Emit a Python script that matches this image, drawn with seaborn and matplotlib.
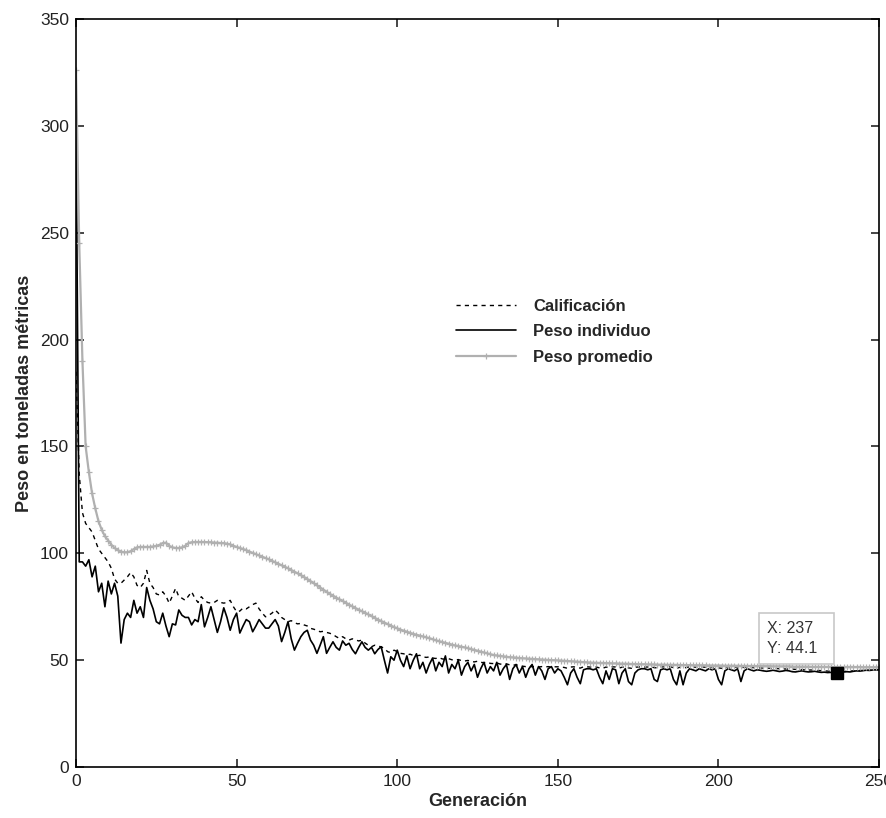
import matplotlib
matplotlib.use('Agg')
import matplotlib.pyplot as plt
import numpy as np
import pandas as pd
import seaborn as sns

# generations 0..250
generacion = list(range(251))

calificacion = [
    185, 137, 119, 114, 112, 110, 106, 102, 100, 98,
    96, 93, 88, 86, 86, 87.5, 89, 91, 89, 85,
    84, 86, 92, 86, 84, 81, 80.5, 82, 80, 76.7,
    80, 83.6, 79.7, 79, 78, 80, 82, 79, 77, 79.7,
    78, 77, 76.7, 77, 78, 77, 76.7, 77, 78, 75,
    72.7, 73, 74.4, 74, 75, 76, 76.7, 74, 72, 70.3,
    71, 72, 73.5, 72, 70, 69, 68, 68.5, 67.5, 67,
    67.2, 66.5, 66, 64.9, 64.5, 64, 63.3, 63.5, 63, 62.6,
    62, 61, 60.2, 61, 60, 59.4, 60, 59.5, 59, 59.4,
    58, 57, 56.3, 57, 56.5, 56.3, 55.5, 54, 53.5, 54.7,
    54, 53.2, 53, 52.4, 52.8, 52.2, 52, 52.3, 51.6, 51.3,
    51.5, 51, 50.8, 51.2, 50.6, 50.4, 50.7, 50.2, 50, 50.3,
    49.8, 49.6, 49.9, 49.4, 49.2, 49.5, 49, 48.8, 49.1, 48.5,
    48.4, 48.7, 48.2, 48, 48.3, 47.8, 47.6, 47.9, 47.4, 47.2,
    47, 47.3, 46.9, 47.1, 46.8, 47, 46.8, 47, 46.8, 46.9,
    46.9, 46.8, 46.6, 46.2, 46.8, 46.9, 46.5, 46.3, 46.9, 46.9,
    46.8, 46.9, 46.8, 46.4, 46.2, 46.8, 46.5, 46.9, 46.8, 46.3,
    46.7, 46.9, 46.4, 46.2, 46.7, 46.8, 46.9, 46.8, 46.8, 46.9,
    46.5, 46.4, 46.8, 46.9, 46.8, 46.9, 46.5, 46.2, 46.7, 46.2,
    46.6, 46.9, 46.8, 46.7, 46.9, 46.8, 46.7, 46.9, 46.8, 46.9,
    46.4, 46.2, 46.7, 46.9, 46.8, 46.7, 46.9, 46.4, 46.7, 46.8,
    46.6, 46.5, 46.5, 46.4, 46.3, 46.3, 46.2, 46.1, 46.1, 46,
    45.9, 45.9, 45.8, 45.8, 45.7, 45.6, 45.6, 45.5, 45.4, 45.4,
    45.3, 45.2, 45.1, 45, 44.9, 44.8, 44.7, 44.6, 44.6, 44.7,
    44.8, 44.9, 45, 45.1, 45.2, 45.2, 45.3, 45.3, 45.4, 45.4,
    45.5,
]

peso_individuo = [
    305, 96, 96, 94, 97, 89, 94, 82, 86, 75,
    87, 81, 86, 80, 58, 69, 72, 70, 78, 72,
    75, 70, 84, 78, 74, 68, 67, 72, 66, 61,
    67, 66.5, 73.5, 71, 70, 70, 66.5, 69, 68, 76,
    65.6, 70, 75, 69, 63, 68, 74.5, 70, 64, 69,
    72, 62.7, 66, 69, 68, 63.3, 66, 69, 67, 65,
    65, 67, 69, 66, 58.7, 63, 68, 60, 54.7, 58,
    61, 63, 64, 59.4, 57, 53.2, 57, 61, 53.2, 56,
    58.6, 56, 54.7, 59, 57, 57.9, 55, 53, 56, 58.6,
    56, 54.7, 56, 53, 55, 56.3, 50, 44, 51.6, 50,
    54.7, 50, 47, 52, 46, 50, 53, 46, 49, 44,
    48, 51, 45, 49, 47, 52, 44, 48, 46, 50,
    43, 47, 49, 45, 48, 42, 46, 49, 44, 47,
    45, 49, 43, 46, 48, 41, 46, 48, 44, 47,
    42, 46, 48, 43, 47, 45, 41, 46, 47, 44,
    46, 45, 42, 38.5, 44, 46, 42, 39, 45.5, 46,
    46, 45.5, 46, 42, 39, 45, 41, 46, 45.5, 39,
    44, 46, 40, 38.5, 44, 45.5, 46, 46, 45.5, 46,
    41, 40, 45.5, 46, 45.5, 46, 41, 38.5, 45, 38.5,
    44, 46, 45.5, 45, 46, 45.5, 45, 46, 45.5, 46,
    41, 38.5, 45, 46, 45.5, 45, 46, 40, 45, 46,
    45.5, 45, 45.5, 45.3, 45, 44.8, 45, 45.3, 45, 44.7,
    44.9, 45.2, 45, 44.6, 44.5, 44.8, 45, 44.7, 44.5, 44.6,
    44.8, 44.5, 44.3, 44.4, 44.2, 44.3, 44.2, 44.1, 44.3, 44.5,
    44.6, 44.5, 44.8, 45, 44.9, 45.1, 45.3, 45.2, 45.4, 45.5,
    45.6,
]

peso_promedio = [
    326, 245, 190, 150, 138, 128, 121, 115, 111, 108,
    106, 104, 102.5, 101.5, 100.8, 100.5, 100.5, 101, 102, 102.8,
    103, 103, 103, 103, 103.2, 103.5, 104, 104.8, 105, 103.5,
    102.8, 102.5, 102.5, 102.8, 103.5, 104.8, 105.2, 105.3, 105.3, 105.3,
    105.3, 105.2, 105.2, 105, 105, 104.8, 104.8, 104.5, 104.2, 103.5,
    103, 102.5, 102, 101.5, 100.8, 100.2, 99.6, 99, 98.4, 97.8,
    97.2, 96.5, 95.8, 95.1, 94.4, 93.7, 93, 92.2, 91.4, 90.6,
    89.8, 88.9, 88, 87, 86, 85, 84, 83, 82, 81,
    80.2, 79.3, 78.5, 77.7, 76.9, 76, 75.2, 74.4, 73.6, 72.9,
    72.2, 71.4, 70.6, 69.8, 69, 68.3, 67.6, 66.9, 66.2, 65.5,
    64.9, 64.3, 63.8, 63.3, 62.8, 62.3, 61.9, 61.5, 61.1, 60.7,
    60.3, 59.8, 59.3, 58.9, 58.5, 58.1, 57.7, 57.3, 56.9, 56.6,
    56.3, 56, 55.6, 55.2, 54.8, 54.4, 54, 53.6, 53.2, 52.8,
    52.4, 52.2, 52, 51.8, 51.6, 51.4, 51.3, 51.2, 51, 50.9,
    50.8, 50.7, 50.6, 50.5, 50.4, 50.3, 50.2, 50.1, 50, 50,
    49.9, 49.8, 49.7, 49.6, 49.5, 49.4, 49.3, 49.2, 49.1, 49,
    48.9, 48.8, 48.8, 48.7, 48.7, 48.6, 48.6, 48.5, 48.5, 48.4,
    48.4, 48.3, 48.3, 48.2, 48.2, 48.1, 48.1, 48.1, 48, 48,
    48, 47.9, 47.9, 47.9, 47.8, 47.8, 47.8, 47.8, 47.7, 47.7,
    47.7, 47.7, 47.6, 47.6, 47.6, 47.6, 47.6, 47.5, 47.5, 47.5,
    47.5, 47.5, 47.4, 47.4, 47.4, 47.4, 47.4, 47.3, 47.3, 47.3,
    47.3, 47.3, 47.2, 47.2, 47.2, 47.2, 47.2, 47.1, 47.1, 47.1,
    47.1, 47.1, 47.1, 47, 47, 47, 47, 47, 47, 46.9,
    46.9, 46.9, 46.9, 46.9, 46.9, 46.9, 46.8, 46.8, 46.8, 46.8,
    46.8, 46.8, 46.8, 46.8, 46.8, 46.7, 46.7, 46.7, 46.7, 46.7,
    46.7,
]

tip_x = 237
tip_y = 44.1

sns.set_theme(style='ticks')
plt.rcParams['font.family'] = ['Liberation Sans', 'DejaVu Sans']

df = pd.DataFrame({
    'Generación': generacion,
    'Calificación': calificacion,
    'Peso individuo': peso_individuo,
    'Peso promedio': peso_promedio,
})

fig = plt.figure(figsize=(8.87, 8.18), dpi=100)
ax = fig.add_axes([0.0857, 0.0623, 0.9053, 0.9144])

sns.lineplot(data=df, x='Generación', y='Calificación', ax=ax, color='black',
             linestyle=(0, (3, 3)), linewidth=1.0, label='Calificación')
sns.lineplot(data=df, x='Generación', y='Peso individuo', ax=ax, color='black',
             linewidth=1.2, label='Peso individuo')
sns.lineplot(data=df, x='Generación', y='Peso promedio', ax=ax, color='#b0b0b0',
             linewidth=1.6, marker='+', markersize=4, markeredgewidth=0.9,
             markeredgecolor='#b0b0b0', label='Peso promedio')

ax.set_xlim(0, 250)
ax.set_ylim(0, 350)
ax.set_xticks(range(0, 251, 50))
ax.set_yticks(range(0, 351, 50))
for side in ['top', 'right', 'left', 'bottom']:
    ax.spines[side].set_visible(True)
    ax.spines[side].set_linewidth(1.2)
    ax.spines[side].set_color('black')
ax.tick_params(direction='in', length=6, width=1.2, top=True, right=True,
               labelsize=12.5, labelcolor='#222222', pad=5)
ax.set_xlabel('Generación', fontsize=13, fontweight='bold', labelpad=3)
ax.set_ylabel('Peso en toneladas métricas', fontsize=13, fontweight='bold', labelpad=5)

leg = ax.legend(loc='upper left', bbox_to_anchor=(0.4975, 0.653),
                bbox_transform=fig.transFigure, frameon=False,
                prop={'weight': 'bold', 'size': 12}, handlelength=3.6,
                handletextpad=1.0, labelspacing=0.62)

# data tip
ax.plot([tip_x], [tip_y], marker='s', markersize=9, color='black', zorder=6)
ax.text(215.2, 52.0, f'X: {tip_x}\nY: {tip_y}  ', fontsize=11.5, color='#333333',
        ha='left', va='bottom', zorder=7, linespacing=1.45,
        bbox=dict(boxstyle='square,pad=0.5', fc='white', ec='#c8c8c8', lw=1.2))

fig.savefig('out.png', dpi=100)
